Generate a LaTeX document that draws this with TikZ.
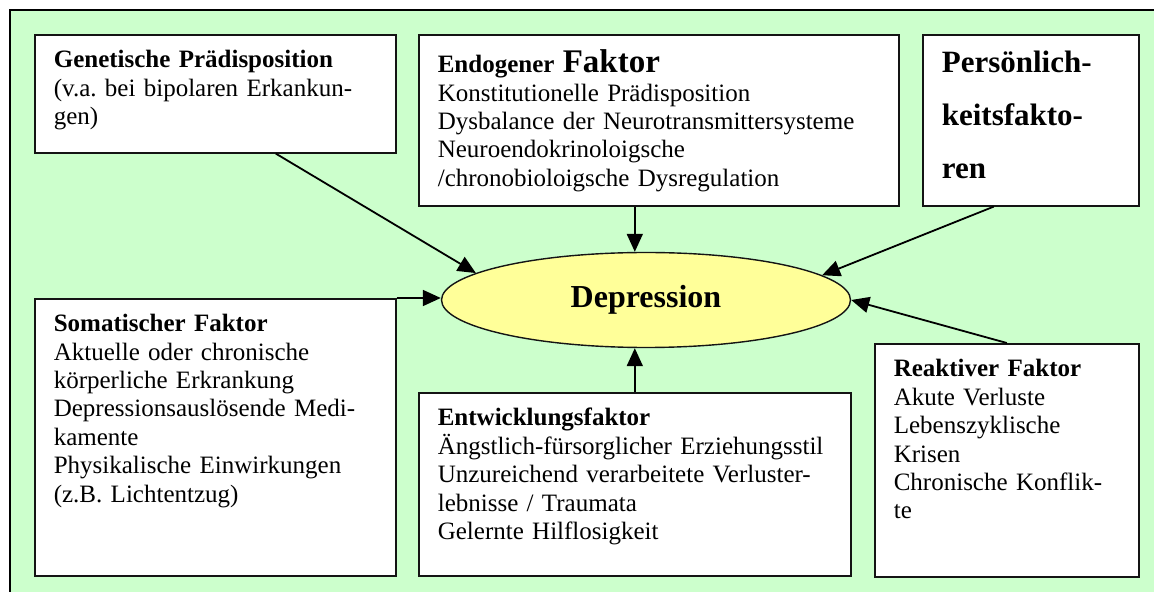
\documentclass[tikz,border=0pt]{standalone}
\usepackage{fontspec}
\setmainfont{Liberation Serif}
\usepackage{tikz}
\usetikzlibrary{
  shapes.geometric,
  arrows.meta,
  positioning
}
\definecolor{PaleGreen}{RGB}{204, 255, 204}
\definecolor{PaleYellow}{RGB}{255, 255, 153}
\definecolor{FrameGray}{RGB}{20, 20, 20}
\frenchspacing
\tikzset{
    factor/.style={
        rectangle, draw=FrameGray, line width=0.8pt, fill=white,
        anchor=north west, align=left, inner xsep=9.5pt, inner ysep=4pt,
        text height=12.5pt, font=\fontsize{12.5}{14.2}\selectfont
    },
    influence/.style={-{Triangle[length=9pt,width=8pt]}, line width=0.9pt}
}

\begin{document}
\begin{tikzpicture}[x=0.5pt, y=-0.5pt]
    \useasboundingbox (0,0) rectangle (1154,592);
    % background panel
    \fill[PaleGreen] (10,10) rectangle (1154,592);
    \draw[line width=0.8pt] (1154,10) -- (10,10) -- (10,592);

    % centre
    \node[ellipse, draw=FrameGray, line width=0.7pt, fill=PaleYellow,
          minimum width=204.5pt, minimum height=47.5pt, inner sep=0pt,
          font=\fontsize{16}{19}\selectfont\bfseries] (dep) at (646,300) {Depression};

    % factors
    \node[factor, text width=161.5pt, text depth=38.5pt] (gen) at (34,34) {
        \textbf{Genetische Prädisposition}\\
        (v.a. bei bipolaren Erkankun-\\
        gen)};
    \node[factor, text width=221pt, text height=15pt, text depth=62.5pt] (endo) at (418,34) {
        \textbf{Endogener {\fontsize{16.5}{14.2}\selectfont Faktor}}\\
        Konstitutionelle Prädisposition\\
        Dysbalance der Neurotransmittersysteme\\
        Neuroendokrinoloigsche\\
        /chronobioloigsche Dysregulation};
    \node[factor, text width=89pt, text height=15pt, text depth=62.5pt,
          font=\fontsize{15.5}{26.5}\selectfont\bfseries] (pers) at (922,34) {
        Persönlich-\\
        keitsfakto-\\
        ren};
    \node[factor, text width=161.5pt, text depth=118pt] (som) at (34,298) {
        \textbf{Somatischer Faktor}\\
        Aktuelle oder chronische\\
        körperliche Erkrankung\\
        Depressionsauslösende Medi-\\
        kamente\\
        Physikalische Einwirkungen\\
        (z.B. Lichtentzug)};
    \node[factor, text width=197pt, text depth=71pt] (entw) at (418,392) {
        \textbf{Entwicklungsfaktor}\\
        Ängstlich-fürsorglicher Erziehungsstil\\
        Unzureichend verarbeitete Verluster-\\
        lebnisse / Traumata\\
        Gelernte Hilflosigkeit};
    \node[factor, text width=113pt, text depth=96pt] (reak) at (874,343) {
        \textbf{Reaktiver Faktor}\\
        Akute Verluste\\
        Lebenszyklische\\
        Krisen\\
        Chronische Konflik-\\
        te};

    % arrows
    \draw[influence] ([xshift=30.25pt]gen.south) -- (dep.171);
    \draw[influence] ([xshift=-12pt]endo.south) -- ([xshift=-12pt]endo.south |- dep.north);
    \draw[influence] ([xshift=-18.5pt]pers.south) -- (dep.8.5);
    \draw[influence] (som.north east) -- (som.north east -| dep.west);
    \draw[influence] (entw.north) -- (entw.north |- dep.south);
    \draw[influence] (reak.north) -- (dep.east);
\end{tikzpicture}
\end{document}
